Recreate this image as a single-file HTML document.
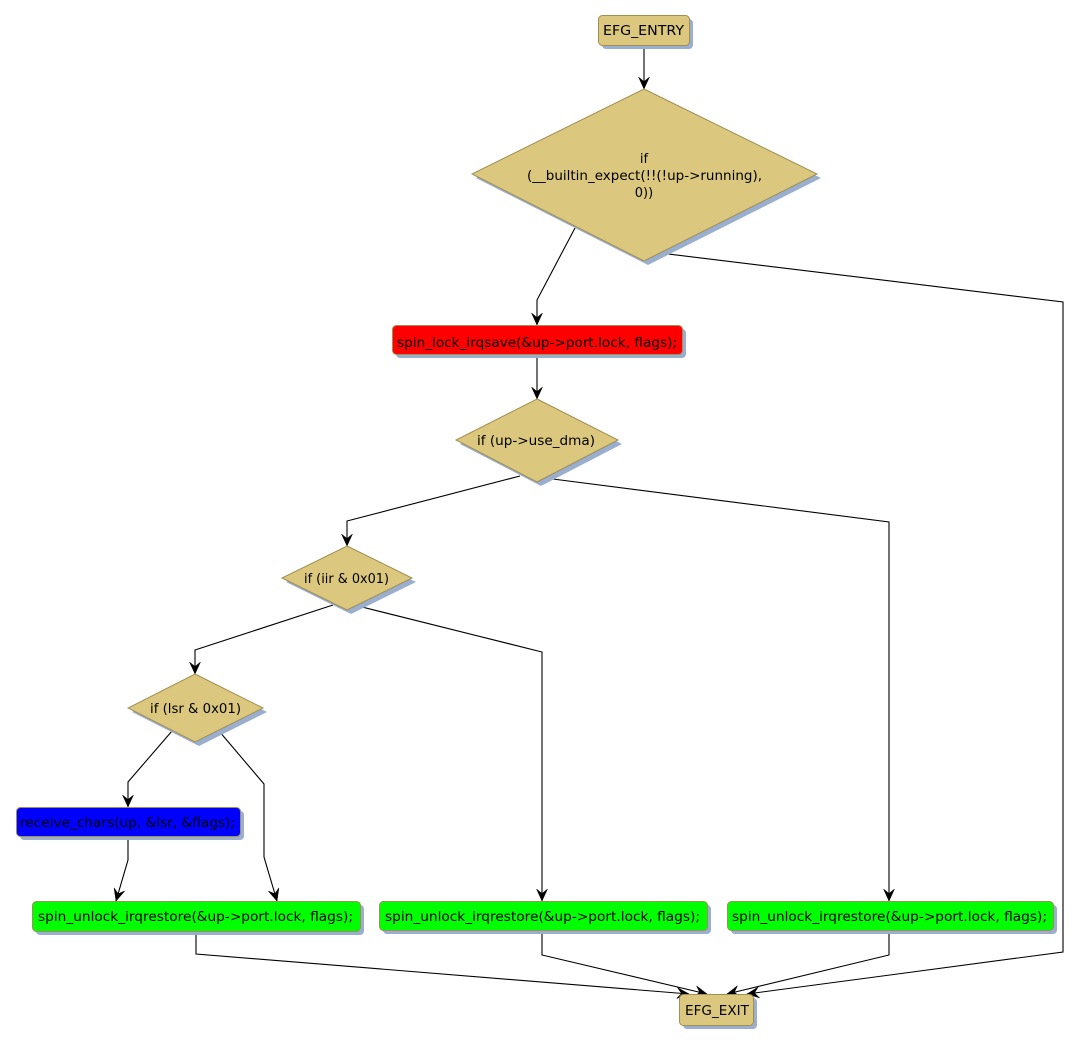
<!DOCTYPE html>
<html><head><meta charset="utf-8"><style>
html,body{margin:0;padding:0;background:#fff;}
svg{display:block;}
text{font-family:"DejaVu Sans","Liberation Sans",sans-serif;font-size:13px;fill:#000;}
</style></head><body>
<svg width="1079" height="1043" viewBox="0 0 1079 1043" xmlns="http://www.w3.org/2000/svg">
<defs>
<marker id="a" markerUnits="userSpaceOnUse" markerWidth="14" markerHeight="12" refX="12" refY="5.5" orient="auto" overflow="visible">
<path d="M0,0 L12,5.5 L0,11 L4.5,5.5 Z" fill="#000" stroke="#000" stroke-width="0.5"/>
</marker>
</defs>
<g fill="none" stroke="#000" stroke-width="1.1">
<polyline points="644,45 644,89" marker-end="url(#a)"/>
<polyline points="575,228 537,300 537,325" marker-end="url(#a)"/>
<polyline points="660,253 1063,302 1063,952 747,994" marker-end="url(#a)"/>
<polyline points="537,354 537,399" marker-end="url(#a)"/>
<polyline points="520,476 347,521 347,546" marker-end="url(#a)"/>
<polyline points="545,478 889,522 889,901" marker-end="url(#a)"/>
<polyline points="333,605 195,650 195,674" marker-end="url(#a)"/>
<polyline points="358,606 542,652 542,901" marker-end="url(#a)"/>
<polyline points="172,731 128,782 128,807" marker-end="url(#a)"/>
<polyline points="219,731 264,784 264,857 277,901" marker-end="url(#a)"/>
<polyline points="128,836 128,860 116,901" marker-end="url(#a)"/>
<polyline points="196,931 196,954 689,994" marker-end="url(#a)"/>
<polyline points="542,930 542,955 707,994" marker-end="url(#a)"/>
<polyline points="889,930 889,955 727,994" marker-end="url(#a)"/>
</g>
<!-- shadows -->
<g fill="#9aaed0">
<rect x="602" y="19" width="91" height="30" rx="4"/>
<polygon points="648,93 821,178 648,265 476,178"/>
<rect x="396" y="329" width="290" height="29" rx="4"/>
<polygon points="541,403 622,444 541,486 460,444"/>
<polygon points="351,550 416,582 351,614 286,582"/>
<polygon points="199,678 267,712 199,746 132,712"/>
<rect x="20" y="811" width="224" height="29" rx="4"/>
<rect x="36" y="905" width="328" height="30" rx="4"/>
<rect x="383" y="905" width="328" height="29" rx="4"/>
<rect x="731" y="905" width="326" height="29" rx="4"/>
<rect x="683" y="998" width="74" height="31" rx="4"/>
</g>
<!-- shapes -->
<g stroke="#a08e52" stroke-width="1">
<rect x="598.5" y="15.5" width="91" height="30" rx="4" fill="#dbc87e"/>
<polygon points="644,89 817,174 644,261 472,174" fill="#dbc87e"/>
<rect x="392.5" y="325.5" width="290" height="29" rx="4" fill="#ff0000"/>
<polygon points="537,399 618,440 537,482 456,440" fill="#dbc87e"/>
<polygon points="347,546 412,578 347,610 282,578" fill="#dbc87e"/>
<polygon points="195,674 263,708 195,742 128,708" fill="#dbc87e"/>
<rect x="16.5" y="807.5" width="224" height="29" rx="4" fill="#0000ff"/>
<rect x="32.5" y="901.5" width="328" height="30" rx="4" fill="#00ff00"/>
<rect x="379.5" y="901.5" width="328" height="29" rx="4" fill="#00ff00"/>
<rect x="727.5" y="901.5" width="326" height="29" rx="4" fill="#00ff00"/>
<rect x="679.5" y="994.5" width="74" height="31" rx="4" fill="#dbc87e"/>
</g>
<g text-anchor="middle">
<text x="643.5" y="35" textLength="81" lengthAdjust="spacingAndGlyphs">EFG_ENTRY</text>
<text x="644" y="163">if</text>
<text x="644.5" y="180" textLength="235" lengthAdjust="spacingAndGlyphs">(__builtin_expect(!!(!up-&gt;running),</text>
<text x="644" y="197">0))</text>
<text x="537" y="347" textLength="280" lengthAdjust="spacingAndGlyphs">spin_lock_irqsave(&amp;up-&gt;port.lock, flags);</text>
<text x="536" y="445" textLength="118" lengthAdjust="spacingAndGlyphs">if (up-&gt;use_dma)</text>
<text x="346.5" y="583" textLength="85" lengthAdjust="spacingAndGlyphs">if (iir &amp; 0x01)</text>
<text x="195.5" y="713" textLength="91" lengthAdjust="spacingAndGlyphs">if (lsr &amp; 0x01)</text>
<text x="127.5" y="827" textLength="215" lengthAdjust="spacingAndGlyphs">receive_chars(up, &amp;lsr, &amp;flags);</text>
<text x="195.5" y="921" textLength="315" lengthAdjust="spacingAndGlyphs">spin_unlock_irqrestore(&amp;up-&gt;port.lock, flags);</text>
<text x="542.5" y="921" textLength="315" lengthAdjust="spacingAndGlyphs">spin_unlock_irqrestore(&amp;up-&gt;port.lock, flags);</text>
<text x="889.5" y="921" textLength="315" lengthAdjust="spacingAndGlyphs">spin_unlock_irqrestore(&amp;up-&gt;port.lock, flags);</text>
<text x="717" y="1015" textLength="64" lengthAdjust="spacingAndGlyphs">EFG_EXIT</text>
</g>
</svg>
</body></html>
